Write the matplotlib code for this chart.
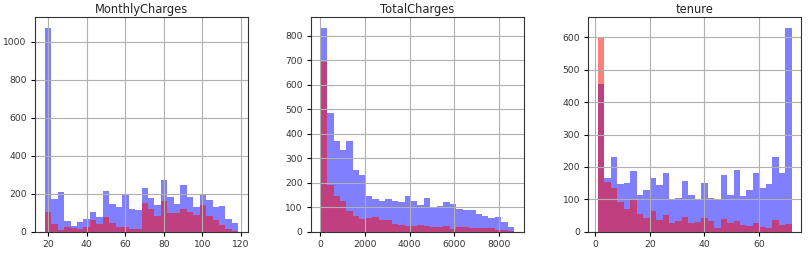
import matplotlib
matplotlib.use("Agg")
import matplotlib.pyplot as plt
import numpy as np

# value ranges of each feature (30 bins each)
monthly_range = (18.25, 118.75)
total_range = (18.8, 8684.8)
tenure_range = (1, 72)

# bin counts, churn = No (blue)
monthly_no = [1076, 171, 208, 58, 30, 53, 67, 104, 76, 213, 146, 129, 194, 120, 115,
              229, 176, 141, 272, 183, 146, 245, 183, 129, 194, 166, 129, 136, 69, 48]
total_no = [834, 483, 371, 335, 371, 253, 231, 145, 133, 124, 133, 127, 123, 146, 124,
            111, 138, 100, 104, 122, 114, 93, 88, 88, 74, 63, 57, 60, 38, 19]
tenure_no = [457, 165, 232, 147, 150, 186, 113, 129, 165, 144, 181, 100, 103, 157, 114,
             100, 151, 105, 101, 176, 112, 189, 111, 129, 181, 134, 147, 231, 181, 630]

# bin counts, churn = Yes (red)
monthly_yes = [104, 42, 9, 26, 21, 12, 26, 62, 42, 78, 48, 26, 26, 16, 16,
               152, 118, 85, 162, 100, 100, 120, 104, 88, 139, 85, 63, 35, 12, 5]
total_yes = [694, 192, 145, 124, 86, 64, 52, 56, 60, 48, 48, 33, 27, 25, 22,
             27, 25, 19, 19, 25, 12, 18, 18, 15, 15, 15, 14, 7, 7, 3]
tenure_yes = [600, 152, 136, 93, 70, 101, 56, 43, 65, 37, 52, 28, 34, 46, 26,
              29, 43, 32, 12, 38, 26, 32, 22, 19, 26, 14, 11, 35, 21, 25]

titles = ["MonthlyCharges", "TotalCharges", "tenure"]
ranges = [monthly_range, total_range, tenure_range]
no_counts = [monthly_no, total_no, tenure_no]
yes_counts = [monthly_yes, total_yes, tenure_yes]

fig = plt.figure(figsize=(8.09, 2.57), dpi=100)
lefts = [0.0433, 0.3844, 0.7272]

for left, title, rng, no, yes in zip(lefts, titles, ranges, no_counts, yes_counts):
    ax = fig.add_axes([left, 0.0984, 0.2633, 0.834])
    edges = np.linspace(rng[0], rng[1], 31)
    ax.hist(edges[:-1], bins=edges, weights=no, color="blue", alpha=0.5)
    ax.hist(edges[:-1], bins=edges, weights=yes, color="red", alpha=0.5)
    ax.set_title(title, fontsize=8.3, pad=3, color="#262626")
    ax.grid(True, color="#b0b0b0", linewidth=0.8)
    ax.tick_params(labelsize=6.6, length=3, pad=3, labelcolor="#333333")
    for sp in ax.spines.values():
        sp.set_color("#333333")

fig.savefig("out.png", dpi=100)
